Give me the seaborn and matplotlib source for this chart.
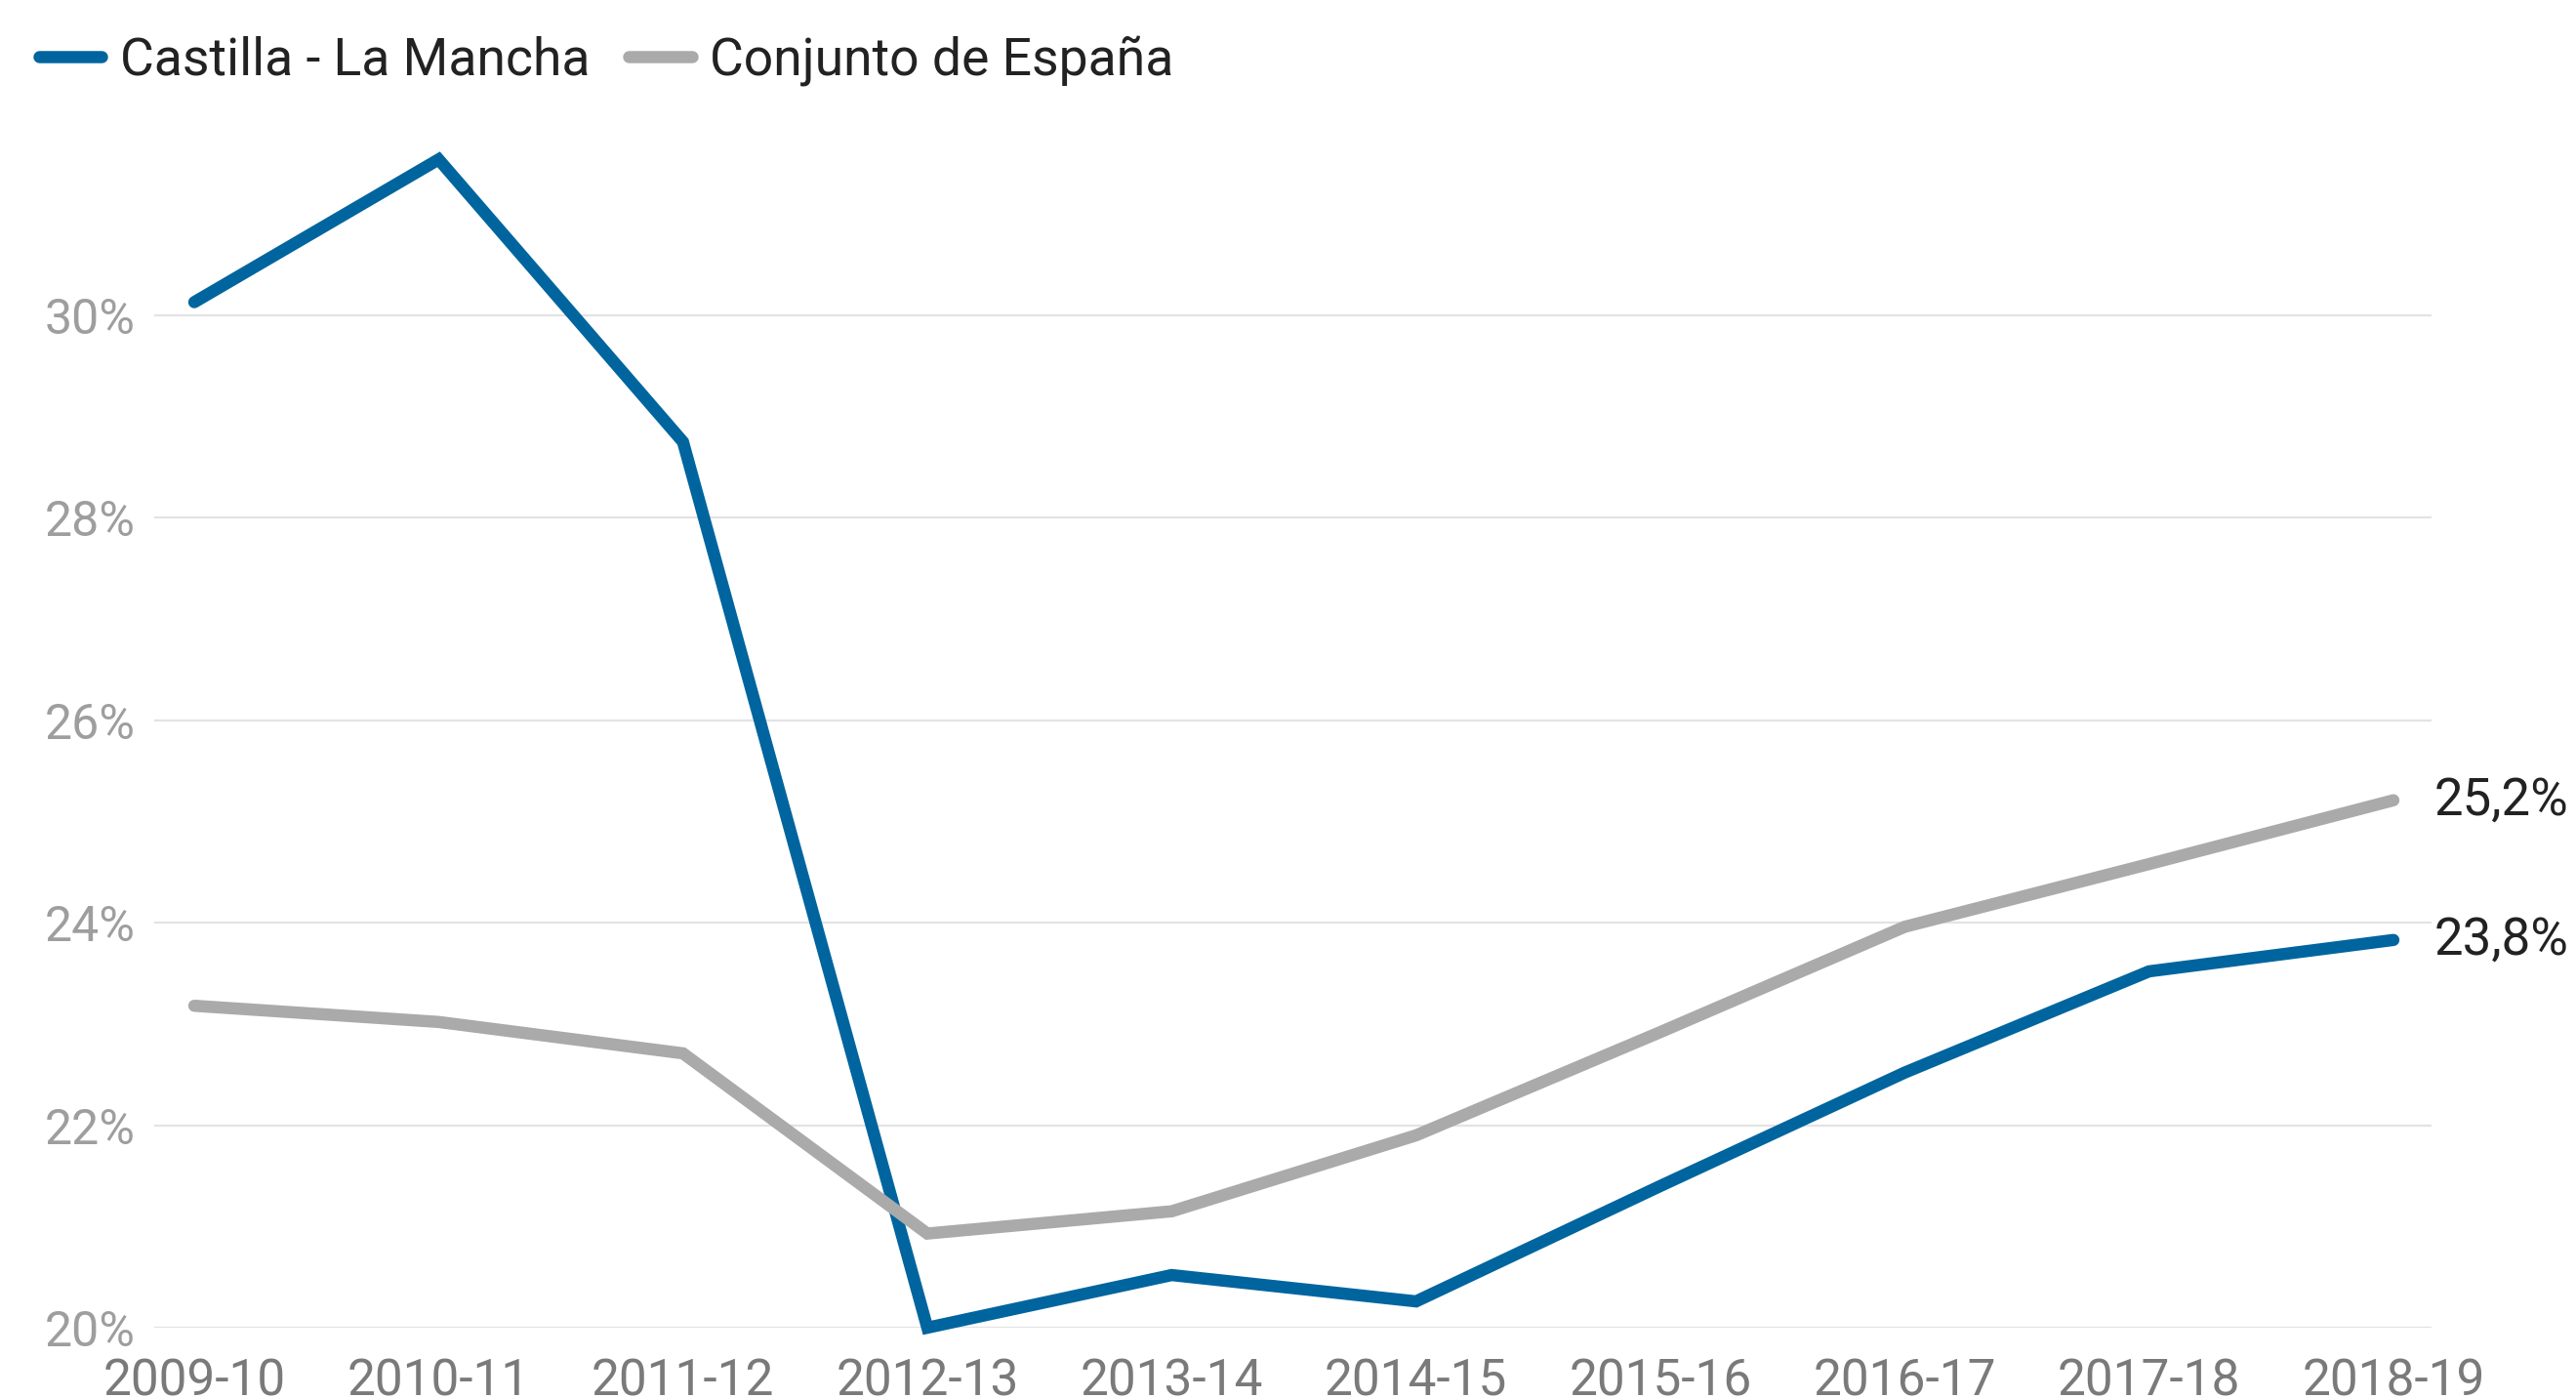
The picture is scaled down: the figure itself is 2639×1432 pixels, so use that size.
import pandas as pd
import matplotlib.pyplot as plt
import seaborn as sns
from matplotlib.ticker import FuncFormatter
from matplotlib.lines import Line2D

# data
cursos = ["2009-10", "2010-11", "2011-12", "2012-13", "2013-14",
          "2014-15", "2015-16", "2016-17", "2017-18", "2018-19"]
castilla = [30.13, 31.54, 28.75, 20.0, 20.52, 20.26, 21.4, 22.52, 23.52, 23.83]
espana = [23.18, 23.02, 22.71, 20.93, 21.15, 21.9, 22.92, 23.96, 24.58, 25.21]
series_names = ["Castilla - La Mancha", "Conjunto de España"]
end_labels = ["23,8%", "25,2%"]
colores = ["#00659e", "#aaaaaa"]

df = pd.DataFrame(
    {
        "curso": cursos * 2,
        "valor": castilla + espana,
        "serie": [series_names[0]] * len(cursos) + [series_names[1]] * len(cursos),
    }
)

sns.set_style("white")
plt.rcParams["font.family"] = ["Roboto", "DejaVu Sans"]

fig = plt.figure(figsize=(26.39, 14.32), dpi=100)
ax = fig.add_axes([158 / 2639, 1 - 1360 / 1432, (2491 - 158) / 2639, (1360 - 115.6) / 1432])

sns.lineplot(
    data=df,
    x="curso",
    y="valor",
    hue="serie",
    palette=colores,
    linewidth=9,
    ax=ax,
    legend=False,
    solid_capstyle="round",
    solid_joinstyle="miter",
)
for line in ax.lines:
    line.set_clip_on(False)

ax.set_xlim(-0.164, 9.156)
ax.set_ylim(20, 32)
ax.set_yticks([20, 22, 24, 26, 28, 30])
ax.yaxis.set_major_formatter(FuncFormatter(lambda v, p: f"{v:.0f}%"))
ax.grid(axis="y", color="#e3e3e3", linewidth=1.6)
ax.set_axisbelow(True)
for s in ax.spines.values():
    s.set_visible(False)
ax.set_xlabel("")
ax.set_ylabel("")
ax.tick_params(axis="y", length=0, pad=14, labelsize=36, labelcolor="#9e9e9e")
ax.tick_params(axis="x", length=0, pad=22, labelsize=37, labelcolor="#7a7a7a")

# end labels
for vals, lab in zip([castilla, espana], end_labels):
    ax.annotate(lab, xy=(len(cursos) - 1, vals[-1]), xytext=(30, 0),
                textcoords="offset points", ha="left", va="center",
                fontsize=38, color="#222222", annotation_clip=False)

# legend
handles = [Line2D([0], [0], color=c, linewidth=9, solid_capstyle="round")
           for c in colores]
fig.legend(handles, series_names, loc="upper left",
           bbox_to_anchor=(40 / 2639, 1 - 36 / 1432), ncol=2, frameon=False,
           fontsize=38.5, handlelength=1.2, handletextpad=0.35, columnspacing=0.75,
           borderpad=0, borderaxespad=0, labelcolor="#222222")

plt.savefig("out.png", dpi=100)
